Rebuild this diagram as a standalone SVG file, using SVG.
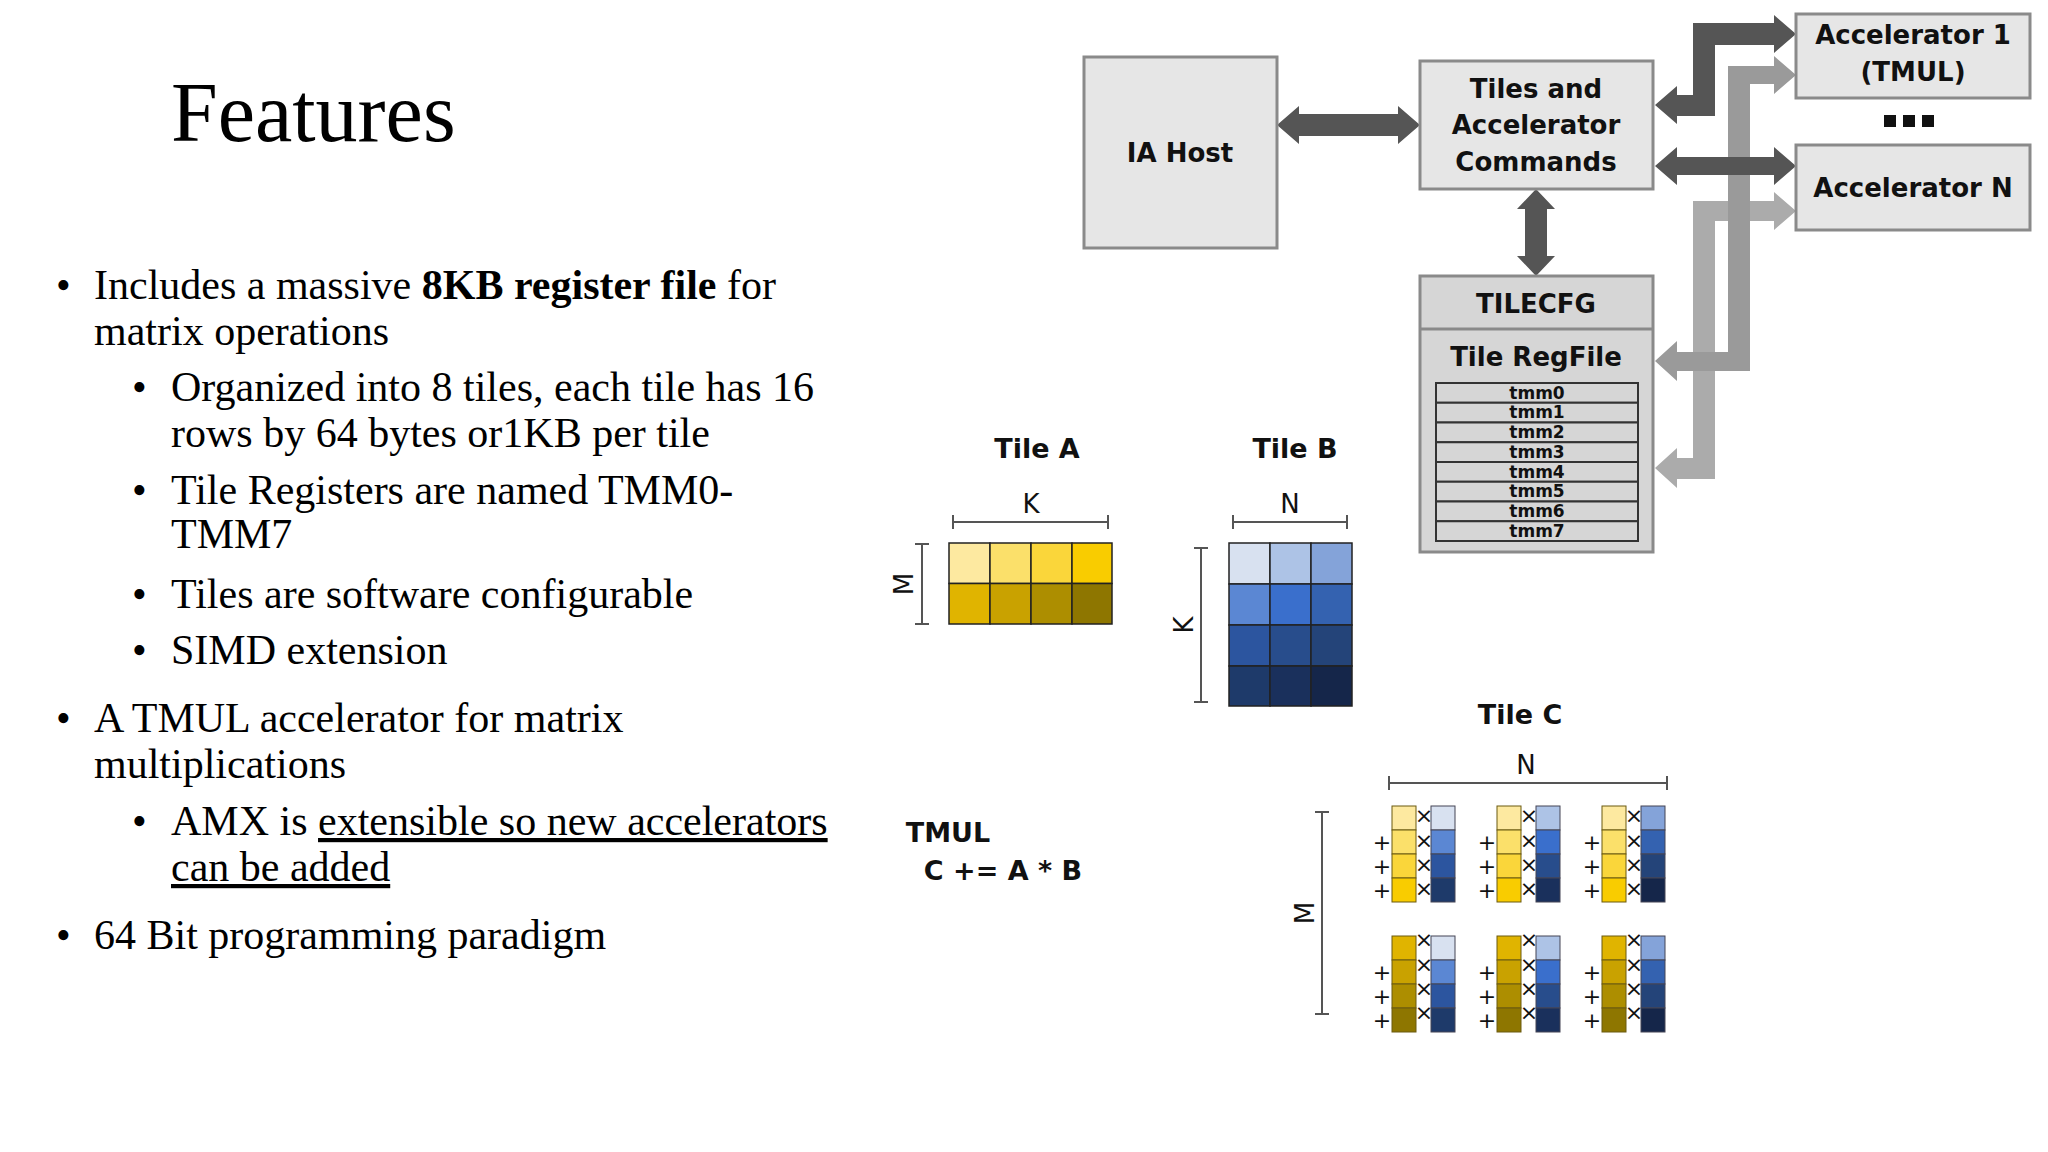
<svg xmlns="http://www.w3.org/2000/svg" width="2048" height="1152" viewBox="0 0 2048 1152">
<style>
.sl{font-family:"Liberation Serif",serif;font-size:42px;fill:#000}
.d{font-family:"DejaVu Sans",sans-serif;font-weight:bold;fill:#111;text-anchor:middle}
.box{fill:#e6e6e6;stroke:#8a8a8a;stroke-width:3}
.dk{fill:#555}
.br{stroke:#555;stroke-width:2;fill:none}
.lb{font-family:"DejaVu Sans",sans-serif;font-size:26px;fill:#111;text-anchor:middle}
.c{stroke:#222;stroke-width:1.5}
.cc{stroke:#6b5a10;stroke-width:1}
.op{font-family:"DejaVu Sans",sans-serif;font-size:22px;fill:#111;text-anchor:middle}
</style>
<rect width="2048" height="1152" fill="#fff"/>
<g id="text">
<text x="171" y="141" font-family="Liberation Serif,serif" font-size="84">Features</text>
<text class="sl" x="56" y="299">•</text><text class="sl" x="94" y="299">Includes a massive <tspan font-weight="bold">8KB register file</tspan> for</text>
<text class="sl" x="94" y="345">matrix operations</text>
<text class="sl" x="132" y="401">•</text><text class="sl" x="171" y="401">Organized into 8 tiles, each tile has 16</text>
<text class="sl" x="171" y="447">rows by 64 bytes or1KB per tile</text>
<text class="sl" x="132" y="504">•</text><text class="sl" x="171" y="504">Tile Registers are named TMM0-</text>
<text class="sl" x="171" y="548">TMM7</text>
<text class="sl" x="132" y="608">•</text><text class="sl" x="171" y="608">Tiles are software configurable</text>
<text class="sl" x="132" y="664">•</text><text class="sl" x="171" y="664">SIMD extension</text>
<text class="sl" x="56" y="732">•</text><text class="sl" x="94" y="732">A TMUL accelerator for matrix</text>
<text class="sl" x="94" y="778">multiplications</text>
<text class="sl" x="132" y="835">•</text><text class="sl" x="171" y="835">AMX is <tspan text-decoration="underline">extensible so new accelerators</tspan></text>
<text class="sl" x="171" y="881" text-decoration="underline">can be added</text>
<text class="sl" x="56" y="949">•</text><text class="sl" x="94" y="949">64 Bit programming paradigm</text>
</g>
<g id="connectors">
<polygon fill="#ababab" points="1796,211 1774,192 1774,201 1693,201 1693,458 1677,458 1677,448 1655,468 1677,488 1677,479 1715,479 1715,221 1774,221 1774,230"/>
<polygon fill="#9a9a9a" points="1796,75 1774,56 1774,66 1728,66 1728,352 1677,352 1677,341 1655,361 1677,381 1677,371 1750,371 1750,84 1774,84 1774,94"/>
<polygon class="dk" points="1277,125 1299,106 1299,114 1398,114 1398,106 1420,125 1398,144 1398,136 1299,136 1299,144"/>
<polygon class="dk" points="1536,189 1555,209 1547,209 1547,256 1555,256 1536,276 1517,256 1525,256 1525,209 1517,209"/>
<polygon class="dk" points="1655,105 1677,86 1677,95 1693,95 1693,23 1774,23 1774,15 1796,34 1774,53 1774,45 1715,45 1715,116 1677,116 1677,124"/>
<polygon class="dk" points="1655,166 1677,147 1677,157 1774,157 1774,147 1796,166 1774,185 1774,175 1677,175 1677,185"/>
</g>
<g id="ia-host"><rect class="box" x="1084" y="57" width="193" height="191"/><text class="d" x="1180" y="162" font-size="26">IA Host</text></g>
<g id="tiles-cmds"><rect class="box" x="1420" y="61" width="233" height="128"/>
<text class="d" x="1536" y="98" font-size="26">Tiles and</text><text class="d" x="1536" y="134" font-size="26">Accelerator</text><text class="d" x="1536" y="171" font-size="26">Commands</text></g>
<g id="acc1"><rect class="box" x="1796" y="14" width="234" height="84"/>
<text class="d" x="1913" y="44" font-size="26">Accelerator 1</text><text class="d" x="1913" y="81" font-size="26">(TMUL)</text></g>
<g id="dots"><rect x="1884" y="115" width="12" height="12" fill="#111"/><rect x="1903" y="115" width="12" height="12" fill="#111"/><rect x="1922" y="115" width="12" height="12" fill="#111"/></g>
<g id="accn"><rect class="box" x="1796" y="145" width="234" height="85"/><text class="d" x="1913" y="197" font-size="26">Accelerator N</text></g>
<g id="tilecfg"><rect x="1420" y="276" width="233" height="276" fill="#d6d6d6" stroke="#8a8a8a" stroke-width="3"/>
<line x1="1420" y1="329" x2="1653" y2="329" stroke="#8a8a8a" stroke-width="3"/>
<text class="d" x="1536" y="313" font-size="26">TILECFG</text><text class="d" x="1536" y="366" font-size="26">Tile RegFile</text>
<g fill="#d6d6d6" stroke="#333" stroke-width="2">
<rect x="1436" y="383" width="202" height="19.75"/><rect x="1436" y="402.75" width="202" height="19.75"/><rect x="1436" y="422.5" width="202" height="19.75"/><rect x="1436" y="442.25" width="202" height="19.75"/>
<rect x="1436" y="462" width="202" height="19.75"/><rect x="1436" y="481.75" width="202" height="19.75"/><rect x="1436" y="501.5" width="202" height="19.75"/><rect x="1436" y="521.25" width="202" height="19.75"/></g>
<g class="d" font-size="17"><text x="1537" y="399">tmm0</text><text x="1537" y="418">tmm1</text><text x="1537" y="438">tmm2</text><text x="1537" y="458">tmm3</text><text x="1537" y="478">tmm4</text><text x="1537" y="497">tmm5</text><text x="1537" y="517">tmm6</text><text x="1537" y="537">tmm7</text></g></g>
<g id="tile-a"><text class="d" x="1037" y="458" font-size="27">Tile A</text><text class="lb" x="1031" y="513">K</text>
<path class="br" d="M953,522H1108M953,515V529M1108,515V529M922,544V624M915,544H929M915,624H929"/>
<text class="lb" transform="translate(913,584) rotate(-90)">M</text>
<g class="c"><rect x="949" y="543" width="41" height="40.5" fill="#fde9a0"/><rect x="990" y="543" width="41" height="40.5" fill="#fbe06a"/><rect x="1031" y="543" width="41" height="40.5" fill="#fad63a"/><rect x="1072" y="543" width="40" height="40.5" fill="#f9cc00"/>
<rect x="949" y="583.5" width="41" height="40.5" fill="#e0b400"/><rect x="990" y="583.5" width="41" height="40.5" fill="#c9a200"/><rect x="1031" y="583.5" width="41" height="40.5" fill="#ad8e00"/><rect x="1072" y="583.5" width="40" height="40.5" fill="#8e7600"/></g></g>
<g id="tile-b"><text class="d" x="1295" y="458" font-size="27">Tile B</text><text class="lb" x="1290" y="513">N</text>
<path class="br" d="M1233,522H1347M1233,515V529M1347,515V529M1201,548V702M1194,548H1208M1194,702H1208"/>
<text class="lb" transform="translate(1193,625) rotate(-90)">K</text>
<g class="c"><rect x="1229" y="543" width="41" height="41" fill="#d8e1f0"/><rect x="1270" y="543" width="41" height="41" fill="#adc3e6"/><rect x="1311" y="543" width="41" height="41" fill="#84a3d9"/>
<rect x="1229" y="584" width="41" height="41" fill="#5b87d3"/><rect x="1270" y="584" width="41" height="41" fill="#3a6fcc"/><rect x="1311" y="584" width="41" height="41" fill="#3462b0"/>
<rect x="1229" y="625" width="41" height="41" fill="#2c559f"/><rect x="1270" y="625" width="41" height="41" fill="#284d8c"/><rect x="1311" y="625" width="41" height="41" fill="#244479"/>
<rect x="1229" y="666" width="41" height="40" fill="#1e3a6a"/><rect x="1270" y="666" width="41" height="40" fill="#1a305c"/><rect x="1311" y="666" width="41" height="40" fill="#15264a"/></g></g>
<g id="tmul"><text class="d" x="948" y="842" font-size="27" text-anchor="start">TMUL</text><text class="d" x="1003" y="880" font-size="27" text-anchor="start">C += A * B</text></g>
<g id="tile-c"><text class="d" x="1520" y="724" font-size="27">Tile C</text><text class="lb" x="1526" y="774">N</text>
<path class="br" d="M1389,783H1667M1389,776V790M1667,776V790M1322,812V1014M1315,812H1329M1315,1014H1329"/>
<text class="lb" transform="translate(1314,913) rotate(-90)">M</text>
<g class="cc">
<rect x="1392" y="806" width="24" height="24" fill="#fde9a0"/><rect x="1392" y="830" width="24" height="24" fill="#fbe06a"/><rect x="1392" y="854" width="24" height="24" fill="#fad63a"/><rect x="1392" y="878" width="24" height="24" fill="#f9cc00"/>
<rect x="1497" y="806" width="24" height="24" fill="#fde9a0"/><rect x="1497" y="830" width="24" height="24" fill="#fbe06a"/><rect x="1497" y="854" width="24" height="24" fill="#fad63a"/><rect x="1497" y="878" width="24" height="24" fill="#f9cc00"/>
<rect x="1602" y="806" width="24" height="24" fill="#fde9a0"/><rect x="1602" y="830" width="24" height="24" fill="#fbe06a"/><rect x="1602" y="854" width="24" height="24" fill="#fad63a"/><rect x="1602" y="878" width="24" height="24" fill="#f9cc00"/>
<rect x="1392" y="936" width="24" height="24" fill="#e0b400"/><rect x="1392" y="960" width="24" height="24" fill="#c9a200"/><rect x="1392" y="984" width="24" height="24" fill="#ad8e00"/><rect x="1392" y="1008" width="24" height="24" fill="#8e7600"/>
<rect x="1497" y="936" width="24" height="24" fill="#e0b400"/><rect x="1497" y="960" width="24" height="24" fill="#c9a200"/><rect x="1497" y="984" width="24" height="24" fill="#ad8e00"/><rect x="1497" y="1008" width="24" height="24" fill="#8e7600"/>
<rect x="1602" y="936" width="24" height="24" fill="#e0b400"/><rect x="1602" y="960" width="24" height="24" fill="#c9a200"/><rect x="1602" y="984" width="24" height="24" fill="#ad8e00"/><rect x="1602" y="1008" width="24" height="24" fill="#8e7600"/>
</g>
<g stroke="#445" stroke-width="1">
<rect x="1431" y="806" width="24" height="24" fill="#d8e1f0"/><rect x="1431" y="830" width="24" height="24" fill="#5b87d3"/><rect x="1431" y="854" width="24" height="24" fill="#2c559f"/><rect x="1431" y="878" width="24" height="24" fill="#1e3a6a"/>
<rect x="1536" y="806" width="24" height="24" fill="#adc3e6"/><rect x="1536" y="830" width="24" height="24" fill="#3a6fcc"/><rect x="1536" y="854" width="24" height="24" fill="#284d8c"/><rect x="1536" y="878" width="24" height="24" fill="#1a305c"/>
<rect x="1641" y="806" width="24" height="24" fill="#84a3d9"/><rect x="1641" y="830" width="24" height="24" fill="#3462b0"/><rect x="1641" y="854" width="24" height="24" fill="#244479"/><rect x="1641" y="878" width="24" height="24" fill="#15264a"/>
<rect x="1431" y="936" width="24" height="24" fill="#d8e1f0"/><rect x="1431" y="960" width="24" height="24" fill="#5b87d3"/><rect x="1431" y="984" width="24" height="24" fill="#2c559f"/><rect x="1431" y="1008" width="24" height="24" fill="#1e3a6a"/>
<rect x="1536" y="936" width="24" height="24" fill="#adc3e6"/><rect x="1536" y="960" width="24" height="24" fill="#3a6fcc"/><rect x="1536" y="984" width="24" height="24" fill="#284d8c"/><rect x="1536" y="1008" width="24" height="24" fill="#1a305c"/>
<rect x="1641" y="936" width="24" height="24" fill="#84a3d9"/><rect x="1641" y="960" width="24" height="24" fill="#3462b0"/><rect x="1641" y="984" width="24" height="24" fill="#244479"/><rect x="1641" y="1008" width="24" height="24" fill="#15264a"/>
</g>
<g class="op">
<text x="1424" y="823">×</text><text x="1424" y="848">×</text><text x="1424" y="872">×</text><text x="1424" y="896">×</text>
<text x="1529" y="823">×</text><text x="1529" y="848">×</text><text x="1529" y="872">×</text><text x="1529" y="896">×</text>
<text x="1634" y="823">×</text><text x="1634" y="848">×</text><text x="1634" y="872">×</text><text x="1634" y="896">×</text>
<text x="1424" y="947">×</text><text x="1424" y="972">×</text><text x="1424" y="996">×</text><text x="1424" y="1020">×</text>
<text x="1529" y="947">×</text><text x="1529" y="972">×</text><text x="1529" y="996">×</text><text x="1529" y="1020">×</text>
<text x="1634" y="947">×</text><text x="1634" y="972">×</text><text x="1634" y="996">×</text><text x="1634" y="1020">×</text>
<text x="1382" y="850">+</text><text x="1382" y="874">+</text><text x="1382" y="898">+</text>
<text x="1487" y="850">+</text><text x="1487" y="874">+</text><text x="1487" y="898">+</text>
<text x="1592" y="850">+</text><text x="1592" y="874">+</text><text x="1592" y="898">+</text>
<text x="1382" y="980">+</text><text x="1382" y="1004">+</text><text x="1382" y="1028">+</text>
<text x="1487" y="980">+</text><text x="1487" y="1004">+</text><text x="1487" y="1028">+</text>
<text x="1592" y="980">+</text><text x="1592" y="1004">+</text><text x="1592" y="1028">+</text>
</g></g>
</svg>
